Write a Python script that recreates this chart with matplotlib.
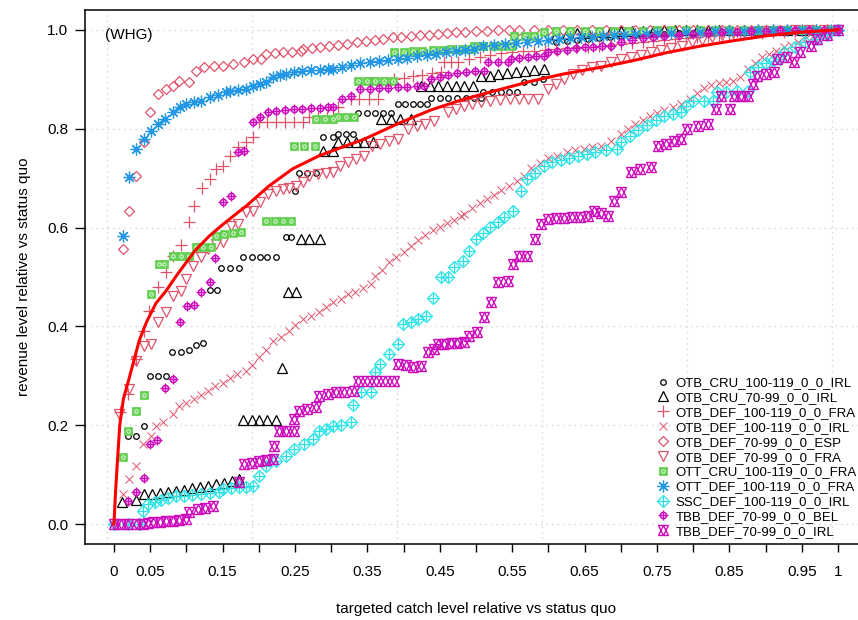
import matplotlib
matplotlib.use('Agg')
import matplotlib.pyplot as plt
from matplotlib.lines import Line2D

plt.rcParams['font.family'] = ['Liberation Sans', 'DejaVu Sans']

# ---------------- data ----------------
series_names = ['OTB_CRU_100-119_0_0_IRL', 'OTB_CRU_70-99_0_0_IRL', 'OTB_DEF_100-119_0_0_FRA',
                'OTB_DEF_100-119_0_0_IRL', 'OTB_DEF_70-99_0_0_ESP', 'OTB_DEF_70-99_0_0_FRA',
                'OTT_CRU_100-119_0_0_FRA', 'OTT_DEF_100-119_0_0_FRA', 'SSC_DEF_100-119_0_0_IRL',
                'TBB_DEF_70-99_0_0_BEL', 'TBB_DEF_70-99_0_0_IRL']

otb_cru_100_irl_x = [0.02, 0.03, 0.041, 0.05, 0.061, 0.072, 0.08, 0.092, 0.104, 0.113, 0.123, 0.133, 0.142,
                     0.148, 0.16, 0.173, 0.178, 0.19, 0.201, 0.212, 0.224, 0.237, 0.245, 0.25, 0.256, 0.267,
                     0.279, 0.289, 0.303, 0.31, 0.32, 0.33, 0.337, 0.349, 0.36, 0.372, 0.383, 0.392, 0.402,
                     0.413, 0.423, 0.433, 0.438, 0.45, 0.462, 0.474, 0.486, 0.497, 0.507, 0.51, 0.522, 0.534,
                     0.546, 0.557, 0.566, 0.58, 0.593, 0.61, 0.625, 0.64, 0.655, 0.67, 0.685, 0.7, 0.72,
                     0.74, 0.76, 0.78, 0.8, 0.82, 0.84, 0.86, 0.88, 0.9, 0.92, 0.94, 0.96]
otb_cru_100_irl_y = [0.178, 0.178, 0.199, 0.30, 0.30, 0.30, 0.348, 0.348, 0.352, 0.362, 0.366, 0.474, 0.474,
                     0.518, 0.518, 0.518, 0.54, 0.54, 0.54, 0.54, 0.54, 0.58, 0.58, 0.674, 0.71, 0.71,
                     0.71, 0.783, 0.783, 0.79, 0.79, 0.79, 0.832, 0.832, 0.832, 0.832, 0.832, 0.85, 0.85,
                     0.85, 0.85, 0.85, 0.862, 0.862, 0.862, 0.862, 0.862, 0.862, 0.862, 0.874, 0.874, 0.874,
                     0.874, 0.874, 0.895, 0.895, 0.9, 0.975, 0.978, 0.98, 0.982, 0.984, 0.986, 0.988, 0.99,
                     0.991, 0.992, 0.993, 0.994, 0.995, 0.996, 0.997, 0.998, 0.998, 0.999, 1.0, 1.0]

otb_cru_70_irl_x = [0.011, 0.031, 0.042, 0.053, 0.064, 0.075, 0.086, 0.097, 0.108, 0.119, 0.13, 0.141, 0.152,
                    0.163, 0.172, 0.178, 0.19, 0.2, 0.212, 0.224, 0.232, 0.24, 0.252, 0.258, 0.27, 0.284,
                    0.289, 0.302, 0.31, 0.322, 0.334, 0.346, 0.358, 0.369, 0.382, 0.395, 0.41, 0.424, 0.436,
                    0.448, 0.46, 0.472, 0.484, 0.496, 0.507, 0.519, 0.531, 0.543, 0.555, 0.567, 0.58, 0.594,
                    0.61, 0.625, 0.64, 0.655, 0.67, 0.685, 0.7, 0.715, 0.73, 0.745, 0.76, 0.775, 0.79,
                    0.805, 0.82, 0.835, 0.85, 0.87, 0.89, 0.91, 0.93, 0.95, 0.97]
otb_cru_70_irl_y = [0.045, 0.049, 0.061, 0.062, 0.064, 0.066, 0.068, 0.07, 0.073, 0.076, 0.078, 0.081, 0.084,
                    0.088, 0.091, 0.211, 0.211, 0.211, 0.211, 0.211, 0.316, 0.47, 0.47, 0.577, 0.577, 0.577,
                    0.755, 0.755, 0.773, 0.773, 0.773, 0.773, 0.773, 0.82, 0.82, 0.82, 0.82, 0.887, 0.887,
                    0.887, 0.887, 0.887, 0.887, 0.887, 0.907, 0.907, 0.91, 0.912, 0.915, 0.917, 0.919, 0.921,
                    0.99, 0.992, 0.993, 0.994, 0.995, 0.996, 0.997, 0.997, 0.998, 0.998, 0.999, 0.999, 0.999,
                    1.0, 1.0, 1.0, 1.0, 1.0, 1.0, 1.0, 1.0, 1.0, 1.0]

otb_def_100_fra_x = [0.009, 0.02, 0.031, 0.042, 0.049, 0.061, 0.072, 0.082, 0.092, 0.103, 0.111, 0.122, 0.132,
                     0.141, 0.151, 0.16, 0.171, 0.183, 0.192, 0.2, 0.212, 0.224, 0.236, 0.248, 0.261, 0.27,
                     0.282, 0.294, 0.303, 0.309, 0.327, 0.339, 0.352, 0.365, 0.387, 0.4, 0.413, 0.426, 0.439,
                     0.452, 0.456, 0.466, 0.475, 0.49, 0.505, 0.52, 0.535, 0.55, 0.565, 0.58, 0.595, 0.61,
                     0.625, 0.64, 0.655, 0.67, 0.685, 0.7, 0.715, 0.73, 0.745, 0.76, 0.775, 0.79, 0.805, 0.82,
                     0.835, 0.85, 0.865, 0.88, 0.895, 0.91, 0.925, 0.94, 0.955, 0.97, 0.985, 1.0]
otb_def_100_fra_y = [0.227, 0.263, 0.334, 0.39, 0.431, 0.48, 0.51, 0.543, 0.565, 0.611, 0.644, 0.68, 0.698,
                     0.719, 0.725, 0.745, 0.763, 0.773, 0.783, 0.814, 0.814, 0.814, 0.814, 0.814, 0.814, 0.824,
                     0.824, 0.824, 0.824, 0.844, 0.86, 0.86, 0.86, 0.86, 0.9, 0.903, 0.906, 0.909, 0.912,
                     0.915, 0.935, 0.935, 0.935, 0.94, 0.945, 0.95, 0.953, 0.955, 0.957, 0.958, 0.96, 0.962,
                     0.964, 0.965, 0.966, 0.968, 0.97, 0.972, 0.974, 0.976, 0.978, 0.98, 0.982, 0.984, 0.986,
                     0.988, 0.99, 0.991, 0.992, 0.993, 0.994, 0.995, 0.996, 0.997, 0.998, 0.999, 1.0, 1.0]

otb_def_100_irl_x = [0.013, 0.021, 0.031, 0.04, 0.051, 0.058, 0.068, 0.082, 0.09, 0.1, 0.11, 0.12, 0.13, 0.14,
                     0.15, 0.16, 0.17, 0.183, 0.19, 0.2, 0.21, 0.22, 0.23, 0.242, 0.25, 0.261, 0.272, 0.283,
                     0.293, 0.303, 0.313, 0.323, 0.333, 0.344, 0.355, 0.36, 0.37, 0.38, 0.39, 0.4, 0.41, 0.42,
                     0.43, 0.44, 0.45, 0.46, 0.47, 0.479, 0.484, 0.495, 0.505, 0.515, 0.525, 0.535, 0.545,
                     0.556, 0.566, 0.576, 0.588, 0.6, 0.612, 0.625, 0.637, 0.649, 0.66, 0.672, 0.686, 0.7,
                     0.71, 0.72, 0.73, 0.74, 0.75, 0.76, 0.772, 0.783, 0.795, 0.805, 0.815, 0.825, 0.835,
                     0.845, 0.855, 0.865, 0.875, 0.885, 0.895, 0.905, 0.915, 0.925, 0.935, 0.945, 0.955,
                     0.965, 0.975, 0.985, 0.994]
otb_def_100_irl_y = [0.061, 0.091, 0.117, 0.162, 0.178, 0.198, 0.206, 0.223, 0.239, 0.245, 0.253, 0.262, 0.27,
                     0.28, 0.285, 0.295, 0.303, 0.31, 0.322, 0.338, 0.352, 0.37, 0.378, 0.39, 0.402, 0.415,
                     0.422, 0.429, 0.44, 0.449, 0.455, 0.465, 0.47, 0.478, 0.486, 0.502, 0.515, 0.53, 0.54,
                     0.55, 0.563, 0.575, 0.585, 0.595, 0.602, 0.61, 0.616, 0.623, 0.628, 0.64, 0.65, 0.658,
                     0.665, 0.675, 0.685, 0.695, 0.705, 0.72, 0.73, 0.74, 0.745, 0.752, 0.757, 0.759, 0.762,
                     0.765, 0.775, 0.79, 0.8, 0.81, 0.818, 0.826, 0.832, 0.838, 0.843, 0.85, 0.86, 0.872,
                     0.882, 0.888, 0.892, 0.894, 0.897, 0.905, 0.92, 0.932, 0.945, 0.952, 0.958, 0.965, 0.97,
                     0.975, 0.982, 0.988, 0.993, 0.997, 1.0]

otb_def_70_esp_x = [0.012, 0.021, 0.031, 0.042, 0.05, 0.061, 0.072, 0.082, 0.09, 0.103, 0.113, 0.125, 0.138,
                    0.151, 0.164, 0.179, 0.192, 0.203, 0.21, 0.222, 0.234, 0.246, 0.258, 0.261, 0.273, 0.285,
                    0.297, 0.31, 0.322, 0.335, 0.348, 0.36, 0.372, 0.385, 0.397, 0.41, 0.422, 0.435, 0.448,
                    0.46, 0.472, 0.485, 0.5, 0.515, 0.53, 0.545, 0.56, 0.58, 0.6, 0.62, 0.64, 0.66, 0.68,
                    0.7, 0.72, 0.74, 0.76, 0.78, 0.8, 0.82, 0.84, 0.86, 0.88, 0.9, 0.92, 0.94, 0.96, 0.98, 1.0]
otb_def_70_esp_y = [0.557, 0.634, 0.705, 0.773, 0.834, 0.87, 0.88, 0.887, 0.897, 0.895, 0.917, 0.925, 0.927,
                    0.927, 0.931, 0.935, 0.941, 0.941, 0.951, 0.953, 0.955, 0.955, 0.957, 0.962, 0.964, 0.966,
                    0.968, 0.97, 0.972, 0.975, 0.978, 0.98, 0.982, 0.985, 0.986, 0.988, 0.99, 0.99, 0.992,
                    0.994, 0.995, 0.996, 0.997, 0.998, 0.999, 0.999, 1.0, 1.0, 1.0, 1.0, 1.0, 1.0, 1.0,
                    1.0, 1.0, 1.0, 1.0, 1.0, 1.0, 1.0, 1.0, 1.0, 1.0, 1.0, 1.0, 1.0, 1.0, 1.0, 1.0]

otb_def_70_fra_x = [0.007, 0.021, 0.031, 0.042, 0.051, 0.061, 0.072, 0.082, 0.093, 0.1, 0.109, 0.12, 0.13,
                    0.141, 0.151, 0.162, 0.171, 0.183, 0.192, 0.201, 0.213, 0.224, 0.233, 0.242, 0.252, 0.261,
                    0.27, 0.282, 0.293, 0.303, 0.312, 0.323, 0.334, 0.345, 0.357, 0.368, 0.38, 0.392, 0.406,
                    0.418, 0.43, 0.442, 0.461, 0.472, 0.483, 0.495, 0.507, 0.52, 0.533, 0.547, 0.56, 0.572,
                    0.585, 0.599, 0.61, 0.622, 0.634, 0.646, 0.66, 0.672, 0.686, 0.7, 0.714, 0.728, 0.742,
                    0.756, 0.77, 0.784, 0.798, 0.812, 0.826, 0.84, 0.855, 0.87, 0.885, 0.9, 0.92, 0.94, 0.96,
                    0.98, 1.0]
otb_def_70_fra_y = [0.222, 0.273, 0.33, 0.36, 0.364, 0.409, 0.429, 0.461, 0.472, 0.496, 0.522, 0.54, 0.557,
                    0.567, 0.571, 0.603, 0.607, 0.632, 0.634, 0.652, 0.668, 0.674, 0.678, 0.68, 0.684, 0.692,
                    0.705, 0.708, 0.711, 0.713, 0.725, 0.732, 0.739, 0.745, 0.765, 0.77, 0.775, 0.779, 0.8,
                    0.805, 0.81, 0.815, 0.834, 0.84, 0.845, 0.85, 0.854, 0.855, 0.857, 0.86, 0.86, 0.86,
                    0.86, 0.88, 0.89, 0.9, 0.91, 0.918, 0.925, 0.927, 0.935, 0.941, 0.945, 0.95, 0.955,
                    0.96, 0.964, 0.968, 0.976, 0.98, 0.985, 0.99, 0.993, 0.995, 0.996, 0.997, 0.998, 0.999, 1.0,
                    1.0, 1.0]

ott_cru_100_fra_x = [0.013, 0.02, 0.031, 0.041, 0.051, 0.062, 0.069, 0.082, 0.093, 0.104, 0.113, 0.123, 0.134,
                     0.141, 0.152, 0.164, 0.176, 0.21, 0.222, 0.234, 0.245, 0.248, 0.262, 0.277, 0.279, 0.291,
                     0.303, 0.31, 0.321, 0.332, 0.337, 0.349, 0.361, 0.373, 0.385, 0.387, 0.4, 0.413, 0.426,
                     0.44, 0.453, 0.466, 0.48, 0.493, 0.497, 0.51, 0.523, 0.536, 0.548, 0.552, 0.567, 0.58,
                     0.594, 0.61, 0.63, 0.65, 0.67, 0.69, 0.71, 0.73, 0.75, 0.77, 0.79, 0.81, 0.83, 0.85,
                     0.87, 0.89, 0.91, 0.93, 0.95, 0.97, 0.99]
ott_cru_100_fra_y = [0.136, 0.188, 0.229, 0.261, 0.466, 0.526, 0.526, 0.543, 0.543, 0.543, 0.561, 0.561, 0.561,
                     0.583, 0.586, 0.589, 0.591, 0.613, 0.613, 0.613, 0.613, 0.765, 0.765, 0.765, 0.82, 0.82,
                     0.82, 0.824, 0.824, 0.824, 0.897, 0.897, 0.897, 0.897, 0.897, 0.955, 0.956, 0.957, 0.958,
                     0.959, 0.96, 0.961, 0.962, 0.962, 0.968, 0.968, 0.968, 0.968, 0.968, 0.988, 0.988, 0.988,
                     0.996, 0.997, 0.997, 0.997, 0.998, 0.998, 0.998, 0.998, 0.999, 0.999, 0.999, 0.999, 1.0,
                     1.0, 1.0, 1.0, 1.0, 1.0, 1.0, 1.0, 1.0]

ott_def_100_fra_x = [0.012, 0.021, 0.031, 0.042, 0.051, 0.061, 0.07, 0.082, 0.091, 0.1, 0.11, 0.12, 0.132,
                     0.143, 0.155, 0.16, 0.171, 0.183, 0.192, 0.201, 0.21, 0.22, 0.229, 0.238, 0.248, 0.26,
                     0.272, 0.284, 0.296, 0.303, 0.315, 0.328, 0.34, 0.353, 0.366, 0.379, 0.392, 0.405, 0.418,
                     0.432, 0.445, 0.458, 0.472, 0.485, 0.497, 0.51, 0.525, 0.54, 0.555, 0.57, 0.585, 0.6,
                     0.615, 0.63, 0.645, 0.66, 0.675, 0.69, 0.705, 0.72, 0.735, 0.75, 0.77, 0.79, 0.81, 0.83,
                     0.85, 0.87, 0.89, 0.91, 0.93, 0.95, 0.97, 0.99]
ott_def_100_fra_y = [0.583, 0.702, 0.759, 0.779, 0.796, 0.81, 0.82, 0.834, 0.844, 0.85, 0.854, 0.856, 0.864,
                     0.869, 0.874, 0.877, 0.878, 0.88, 0.887, 0.891, 0.895, 0.905, 0.908, 0.911, 0.915, 0.917,
                     0.918, 0.919, 0.92, 0.921, 0.925, 0.929, 0.932, 0.934, 0.936, 0.938, 0.941, 0.943, 0.946,
                     0.949, 0.952, 0.955, 0.958, 0.96, 0.962, 0.968, 0.97, 0.972, 0.974, 0.976, 0.978, 0.98,
                     0.982, 0.984, 0.985, 0.986, 0.988, 0.989, 0.99, 0.991, 0.992, 0.993, 0.994, 0.995, 0.996,
                     0.997, 0.998, 0.998, 0.999, 0.999, 1.0, 1.0, 1.0, 1.0]

ssc_def_100_irl_x = [0.0, 0.02, 0.034, 0.04, 0.047, 0.056, 0.065, 0.075, 0.086, 0.097, 0.108, 0.12, 0.133,
                     0.145, 0.151, 0.162, 0.172, 0.182, 0.192, 0.2, 0.21, 0.224, 0.238, 0.248, 0.262, 0.275,
                     0.283, 0.293, 0.303, 0.314, 0.327, 0.33, 0.341, 0.355, 0.36, 0.368, 0.38, 0.392, 0.399,
                     0.41, 0.42, 0.431, 0.441, 0.452, 0.461, 0.47, 0.482, 0.49, 0.5, 0.51, 0.52, 0.53, 0.539,
                     0.551, 0.562, 0.571, 0.582, 0.594, 0.605, 0.617, 0.629, 0.641, 0.653, 0.665, 0.68, 0.695,
                     0.7, 0.712, 0.724, 0.736, 0.748, 0.76, 0.772, 0.783, 0.79, 0.8, 0.815, 0.828, 0.833, 0.845,
                     0.86, 0.875, 0.879, 0.89, 0.9, 0.91, 0.92, 0.925, 0.94, 0.955, 0.971, 0.985, 1.0]
ssc_def_100_irl_y = [0.0, 0.0, 0.0, 0.026, 0.04, 0.045, 0.05, 0.053, 0.057, 0.058, 0.06, 0.061, 0.063, 0.065,
                     0.071, 0.073, 0.075, 0.076, 0.077, 0.097, 0.117, 0.127, 0.138, 0.152, 0.162, 0.172, 0.188,
                     0.193, 0.198, 0.2, 0.206, 0.241, 0.267, 0.267, 0.308, 0.325, 0.345, 0.364, 0.405, 0.41,
                     0.415, 0.421, 0.458, 0.5, 0.5, 0.52, 0.532, 0.553, 0.577, 0.59, 0.602, 0.612, 0.621,
                     0.634, 0.674, 0.698, 0.71, 0.725, 0.733, 0.737, 0.741, 0.745, 0.749, 0.753, 0.756, 0.759,
                     0.773, 0.785, 0.797, 0.808, 0.818, 0.826, 0.83, 0.834, 0.845, 0.855, 0.856, 0.856, 0.874,
                     0.875, 0.876, 0.877, 0.915, 0.925, 0.932, 0.937, 0.941, 0.955, 0.965, 0.975, 0.982, 0.99,
                     1.0]

tbb_def_70_bel_x = [0.02, 0.031, 0.041, 0.05, 0.06, 0.071, 0.081, 0.091, 0.101, 0.11, 0.12, 0.132, 0.14,
                    0.151, 0.161, 0.171, 0.18, 0.192, 0.201, 0.213, 0.224, 0.236, 0.248, 0.26, 0.272, 0.284,
                    0.296, 0.303, 0.315, 0.327, 0.34, 0.353, 0.366, 0.379, 0.392, 0.405, 0.418, 0.428, 0.438,
                    0.45, 0.462, 0.474, 0.486, 0.498, 0.511, 0.516, 0.53, 0.544, 0.548, 0.56, 0.572, 0.583,
                    0.594, 0.599, 0.612, 0.625, 0.638, 0.65, 0.662, 0.674, 0.686, 0.7, 0.715, 0.73, 0.745,
                    0.76, 0.78, 0.8, 0.82, 0.84, 0.86, 0.88, 0.9, 0.92, 0.94, 0.96, 0.98, 1.0]
tbb_def_70_bel_y = [0.047, 0.065, 0.093, 0.162, 0.17, 0.275, 0.294, 0.409, 0.441, 0.443, 0.469, 0.49, 0.538,
                    0.652, 0.664, 0.753, 0.755, 0.814, 0.824, 0.834, 0.836, 0.838, 0.839, 0.84, 0.841, 0.842,
                    0.843, 0.844, 0.86, 0.866, 0.88, 0.881, 0.882, 0.883, 0.884, 0.885, 0.886, 0.887, 0.9,
                    0.905, 0.909, 0.913, 0.915, 0.917, 0.917, 0.935, 0.935, 0.935, 0.941, 0.943, 0.945, 0.946,
                    0.947, 0.955, 0.958, 0.96, 0.963, 0.965, 0.966, 0.967, 0.968, 0.976, 0.98, 0.983, 0.986,
                    0.988, 0.99, 0.992, 0.994, 0.995, 0.996, 0.997, 0.998, 0.999, 1.0, 1.0, 1.0, 1.0]

tbb_def_70_irl_x = [0.0, 0.01, 0.02, 0.03, 0.04, 0.047, 0.054, 0.063, 0.072, 0.081, 0.09, 0.1, 0.104, 0.116,
                    0.126, 0.137, 0.172, 0.179, 0.19, 0.2, 0.21, 0.22, 0.221, 0.228, 0.238, 0.248, 0.249,
                    0.256, 0.267, 0.279, 0.283, 0.295, 0.307, 0.318, 0.332, 0.337, 0.35, 0.362, 0.375, 0.387,
                    0.392, 0.403, 0.413, 0.424, 0.434, 0.442, 0.447, 0.456, 0.465, 0.474, 0.484, 0.49, 0.502,
                    0.511, 0.521, 0.53, 0.544, 0.551, 0.559, 0.571, 0.581, 0.59, 0.599, 0.61, 0.621, 0.632,
                    0.643, 0.654, 0.663, 0.673, 0.682, 0.69, 0.7, 0.714, 0.727, 0.741, 0.751, 0.762, 0.773,
                    0.783, 0.792, 0.806, 0.82, 0.831, 0.838, 0.851, 0.857, 0.866, 0.875, 0.882, 0.888, 0.9,
                    0.911, 0.916, 0.93, 0.939, 0.948, 0.962, 0.971, 0.985, 1.0]
tbb_def_70_irl_y = [0.0, 0.0, 0.0, 0.0, 0.0, 0.002, 0.004, 0.005, 0.006, 0.007, 0.008, 0.01, 0.024, 0.03,
                    0.033, 0.036, 0.085, 0.121, 0.124, 0.127, 0.129, 0.131, 0.158, 0.188, 0.188, 0.188, 0.212,
                    0.229, 0.233, 0.237, 0.259, 0.263, 0.267, 0.267, 0.269, 0.29, 0.29, 0.29, 0.29, 0.29,
                    0.324, 0.322, 0.318, 0.32, 0.348, 0.354, 0.364, 0.365, 0.366, 0.367, 0.368, 0.38, 0.389,
                    0.419, 0.449, 0.49, 0.492, 0.526, 0.543, 0.543, 0.577, 0.607, 0.617, 0.619, 0.62, 0.621,
                    0.622, 0.623, 0.634, 0.63, 0.623, 0.654, 0.672, 0.713, 0.718, 0.723, 0.765, 0.77, 0.775,
                    0.779, 0.8, 0.805, 0.81, 0.84, 0.866, 0.84, 0.866, 0.866, 0.866, 0.891, 0.907, 0.911,
                    0.915, 0.941, 0.945, 0.935, 0.955, 0.968, 0.982, 0.99, 1.0]

fit_x = [0.0, 0.002, 0.004, 0.006, 0.008, 0.013, 0.02, 0.027, 0.035, 0.045, 0.058, 0.072, 0.086, 0.1, 0.113,
         0.131, 0.151, 0.169, 0.183, 0.214, 0.247, 0.283, 0.303, 0.346, 0.392, 0.438, 0.484, 0.53, 0.576,
         0.622, 0.672, 0.718, 0.764, 0.81, 0.856, 0.902, 0.948, 1.0]
fit_y = [0.0, 0.06, 0.11, 0.155, 0.2, 0.253, 0.29, 0.328, 0.372, 0.409, 0.447, 0.472, 0.502, 0.53, 0.555,
         0.582, 0.607, 0.628, 0.644, 0.684, 0.719, 0.745, 0.756, 0.779, 0.81, 0.838, 0.86, 0.878, 0.896,
         0.911, 0.924, 0.938, 0.954, 0.967, 0.978, 0.988, 0.995, 1.0]

series_x = [otb_cru_100_irl_x, otb_cru_70_irl_x, otb_def_100_fra_x, otb_def_100_irl_x, otb_def_70_esp_x,
            otb_def_70_fra_x, ott_cru_100_fra_x, ott_def_100_fra_x, ssc_def_100_irl_x, tbb_def_70_bel_x,
            tbb_def_70_irl_x]
series_y = [otb_cru_100_irl_y, otb_cru_70_irl_y, otb_def_100_fra_y, otb_def_100_irl_y, otb_def_70_esp_y,
            otb_def_70_fra_y, ott_cru_100_fra_y, ott_def_100_fra_y, ssc_def_100_irl_y, tbb_def_70_bel_y,
            tbb_def_70_irl_y]

xtick_pos = [0.0, 0.05, 0.1, 0.15, 0.2, 0.25, 0.3, 0.35, 0.4, 0.45, 0.5, 0.55, 0.6, 0.65, 0.7, 0.75, 0.8,
             0.85, 0.9, 0.95, 1.0]
xtick_labels = ['0', '0.05', '', '0.15', '', '0.25', '', '0.35', '', '0.45', '', '0.55', '', '0.65', '',
                '0.75', '', '0.85', '', '0.95', '1']
ytick_pos = [0.0, 0.2, 0.4, 0.6, 0.8, 1.0]
ytick_labels = ['0.0', '0.2', '0.4', '0.6', '0.8', '1.0']
grid_x = [-0.009, 0.191, 0.391, 0.591, 0.791, 0.991]

# ---------------- styles ----------------
RED = '#DF536B'
GREEN = '#61D04F'
BLUE = '#2297E6'
CYAN = '#28E2E5'
MAG = '#CD0BBC'

styles = [
    [dict(marker='o', ms=4.0, mfc='none', mec='black', mew=0.9)],
    [dict(marker='^', ms=6.5, mfc='none', mec='black', mew=0.9)],
    [dict(marker='+', ms=8, mec=RED, mew=0.9)],
    [dict(marker='x', ms=5.5, mec=RED, mew=0.7)],
    [dict(marker='D', ms=5.5, mfc='none', mec=RED, mew=0.9)],
    [dict(marker='v', ms=7, mfc='none', mec=RED, mew=0.9)],
    [dict(marker='s', ms=6, mfc=GREEN, mec=GREEN, mew=0.5),
     dict(marker='o', ms=2.5, mfc='none', mec='#E8F8E4', mew=0.7)],
    [dict(marker=(8, 2, 0), ms=8.5, mec=BLUE, mew=0.9)],
    [dict(marker='D', ms=6, mfc='none', mec=CYAN, mew=0.9),
     dict(marker='+', ms=7, mec=CYAN, mew=0.9)],
    [dict(marker='o', ms=4.5, mfc='none', mec=MAG, mew=1.1),
     dict(marker='+', ms=7, mec=MAG, mew=1.0)],
    [dict(marker='^', ms=7, mfc='none', mec=MAG, mew=1.0),
     dict(marker='v', ms=7, mfc='none', mec=MAG, mew=1.0)],
]

fig = plt.figure(figsize=(8.58, 6.2), dpi=100)
ax = fig.add_axes([85 / 858, 1 - 544 / 620, (867 - 85) / 858, (544 - 10) / 620])
ax.set_xlim(-0.04, 1.04)
ax.set_ylim(-0.04, 1.04)

for gy in ytick_pos:
    ax.axhline(gy, color='#D3D3D3', lw=1, ls=(0, (1, 3)), zorder=0)
for gx in grid_x:
    ax.axvline(gx, color='#D3D3D3', lw=1, ls=(0, (1, 3)), zorder=0)

handles = []
for xs, ys, st in zip(series_x, series_y, styles):
    hs = []
    for layer in st:
        ax.plot(xs, ys, linestyle='none', **layer)
        hs.append(Line2D([], [], linestyle='none', **layer))
    handles.append(tuple(hs))

ax.plot(fit_x, fit_y, color='#FF0000', lw=2.2, zorder=5)

ax.set_xticks(xtick_pos)
ax.set_xticklabels(xtick_labels)
ax.set_yticks(ytick_pos)
ax.set_yticklabels(ytick_labels)
ax.tick_params(axis='x', length=6, width=1, pad=9, labelsize=11)
ax.tick_params(axis='y', length=7, width=1, pad=5, labelsize=11)
for sp in ax.spines.values():
    sp.set_linewidth(1.1)
    sp.set_color('black')

ax.set_xlabel('targeted catch level relative vs status quo', fontsize=11, labelpad=17)
ax.set_ylabel('revenue level relative vs status quo', fontsize=11, labelpad=12)

ax.text(-0.013, 0.99, '(WHG)', fontsize=11, ha='left', va='center')

leg = ax.legend(handles, series_names, loc='upper left', bbox_to_anchor=(657 / 858, 1 - 377 / 620),
                bbox_transform=fig.transFigure, frameon=False, fontsize=9.5, handlelength=0.9,
                handletextpad=0.5, labelspacing=0.2, borderpad=0, borderaxespad=0)

fig.savefig('out.png', dpi=100)
